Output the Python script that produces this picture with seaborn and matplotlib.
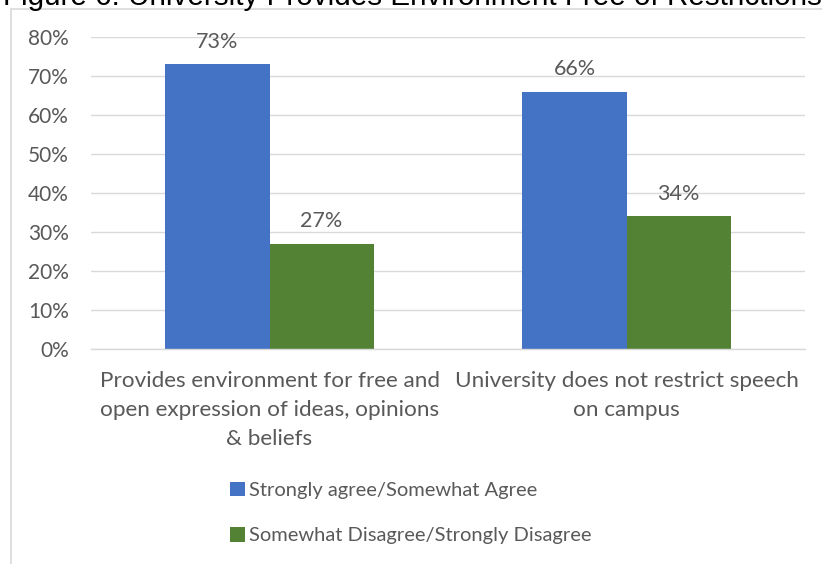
import matplotlib
matplotlib.use("Agg")
import matplotlib.pyplot as plt
import seaborn as sns
import pandas as pd
from matplotlib.lines import Line2D
from matplotlib.patches import Patch

title = "Figure 6: University Provides Environment Free of Restrictions"
categories = [
    "Provides environment for free and\nopen expression of ideas, opinions\n& beliefs",
    "University does not restrict speech\non campus",
]
series = ["Strongly agree/Somewhat Agree", "Somewhat Disagree/Strongly Disagree"]
agree = [73, 66]
disagree = [27, 34]
colors = ["#4472C4", "#548235"]
yticks = [0, 10, 20, 30, 40, 50, 60, 70, 80]

df = pd.DataFrame({
    "category": categories * 2,
    "series": [series[0]] * 2 + [series[1]] * 2,
    "value": agree + disagree,
})

sns.set_style("white")
plt.rcParams["font.family"] = ["Lato", "DejaVu Sans"]
text_color = "#595959"
grid_color = "#d9d9d9"

fig = plt.figure(figsize=(8.22, 5.64), dpi=100)
ax = fig.add_axes([91 / 822, 1 - 349 / 564, (805 - 91) / 822, (349 - 37) / 564])

sns.barplot(data=df, x="category", y="value", hue="series", palette=colors,
            width=0.583, saturation=1, ax=ax, legend=False, edgecolor="none")

ax.set_ylim(0, 80)
ax.set_xlim(-0.5, 1.5)
ax.set_yticks(yticks)
ax.set_yticklabels([f"{v}%" for v in yticks], color=text_color, fontsize=15)
ax.tick_params(axis="y", length=0, pad=16)
ax.yaxis.grid(True, color=grid_color, linewidth=1)
ax.set_axisbelow(True)
for s in ["top", "right", "left"]:
    ax.spines[s].set_visible(False)
ax.spines["bottom"].set_color(grid_color)
ax.spines["bottom"].set_linewidth(1)

# Category labels with boundary ticks between groups
ax.set_xticks([0, 1])
ax.set_xticklabels(categories, color=text_color, fontsize=16.2, linespacing=1.55)
ax.tick_params(axis="x", length=0, pad=16)
ax.set_xticks([-0.5, 0.5, 1.5], minor=True)
ax.tick_params(axis="x", which="minor", length=6, color=grid_color, width=1)
ax.set_xlabel("")
ax.set_ylabel("")

for cont in ax.containers:
    ax.bar_label(cont, labels=[f"{v:.0f}%" for v in cont.datavalues],
                 padding=9, color=text_color, fontsize=15.5)

# Chart frame
fig.add_artist(Line2D([11 / 822, 11 / 822], [0, 1 - 9 / 564],
                      transform=fig.transFigure, color=grid_color, linewidth=1.2))
fig.add_artist(Line2D([11 / 822, 1], [1 - 9 / 564, 1 - 9 / 564],
                      transform=fig.transFigure, color=grid_color, linewidth=1.2))

fig.text(3 / 822, 1 - 5 / 564, title, fontsize=21.3, color="#000000",
         family=["Liberation Sans", "DejaVu Sans"], va="baseline", ha="left")

handles = [Patch(facecolor=c, edgecolor="none") for c in colors]
fig.legend(handles, series, loc="center left", bbox_to_anchor=(222 / 822, 1 - 513 / 564),
           frameon=False, fontsize=14.5, labelcolor=text_color, handlelength=0.75,
           handleheight=0.75, handletextpad=0.2, labelspacing=1.4, borderaxespad=0)

fig.savefig("out.png", dpi=100)
